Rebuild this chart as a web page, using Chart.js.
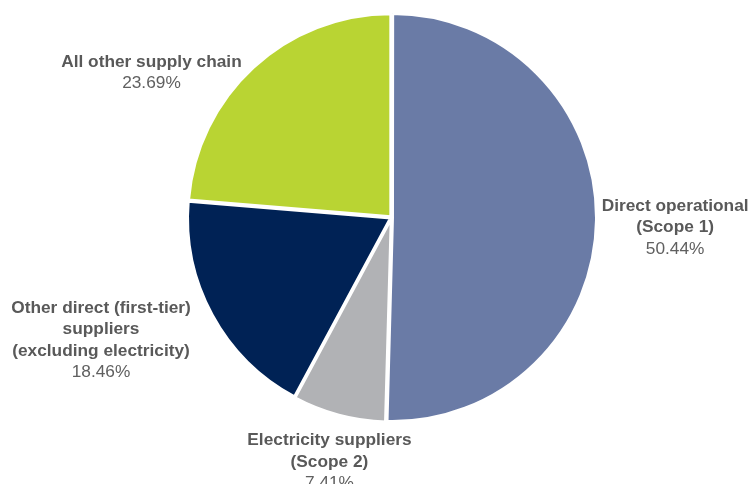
<!DOCTYPE html>
<html>
<head>
<meta charset="utf-8">
<script src="https://cdn.jsdelivr.net/npm/chart.js@4.4.0/dist/chart.umd.min.js"></script>
<style>
  html, body { margin: 0; padding: 0; background: #ffffff; }
  #wrap { width: 749px; height: 484px; }
</style>
</head>
<body>
<div id="wrap"><canvas id="chart0" width="749" height="484"></canvas></div>
<script>
// slice names (one entry per line of the label) and their shares in %
var categories = [
    ["Direct operational", "(Scope 1)"],
    ["Electricity suppliers", "(Scope 2)"],
    ["Other direct (first-tier)", "suppliers", "(excluding electricity)"],
    ["All other supply chain"]
];
var shares = [50.44, 7.41, 18.46, 23.69];
var sliceColors = ['#6a7ba6', '#b1b2b5', '#002255', '#b9d433'];

// where each label sits: distance factor of the radius, angle shift (deg) from slice middle
var labelPlace = [
    [1.398, 1.23],
    [1.243, -0.69],
    [1.553, 5.64],
    [1.381, -16.26]
];

var ctx = document.getElementById('chart0').getContext('2d');

var outsideLabels = {
    id: 'outsideLabels',
    afterDatasetsDraw: function(chart) {
        var c = chart.ctx;
        var meta = chart.getDatasetMeta(0);
        c.save();
        c.textAlign = 'center';
        c.textBaseline = 'middle';
        meta.data.forEach(function(arc, i) {
            var p = arc.getProps(['x', 'y', 'startAngle', 'endAngle', 'outerRadius'], true);
            var mid = (p.startAngle + p.endAngle) / 2 + labelPlace[i][1] * Math.PI / 180;
            var r = p.outerRadius * labelPlace[i][0];
            var cx = p.x + Math.cos(mid) * r;
            var cy = p.y + Math.sin(mid) * r;
            var lines = categories[i].concat([shares[i].toFixed(2) + '%']);
            var lh = 21.5;
            var top = cy - (lines.length - 1) * lh / 2;
            lines.forEach(function(txt, j) {
                var last = j == lines.length - 1;
                c.font = (last ? '' : 'bold ') + '17.3px "Liberation Sans", Arial, sans-serif';
                c.fillStyle = last ? '#606060' : '#595959';
                c.fillText(txt, cx, top + j * lh);
            });
        });
        c.restore();
    }
};

var chart = new Chart(ctx, {
    type: 'pie',
    data: {
        labels: categories.map(function(l) { return l.join(' '); }),
        datasets: [{
            data: shares,
            backgroundColor: sliceColors,
            borderColor: '#ffffff',
            borderWidth: 3,
            offset: 4,
            hoverOffset: 0
        }]
    },
    options: {
        responsive: false,
        animation: false,
        radius: 203,
        layout: { padding: { left: 34, right: 0, top: 11, bottom: 60 } },
        plugins: {
            legend: { display: false },
            tooltip: { enabled: false }
        }
    },
    plugins: [outsideLabels]
});
</script>
</body>
</html>
